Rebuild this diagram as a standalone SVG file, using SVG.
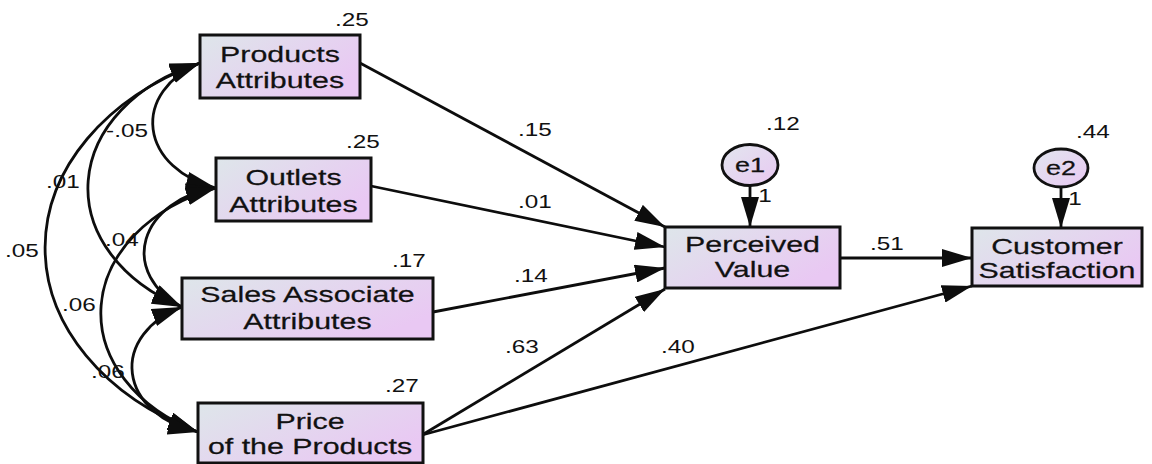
<svg xmlns="http://www.w3.org/2000/svg" width="1152" height="464" viewBox="0 0 1152 464">
<style>
.box{stroke:#111;stroke-width:3;fill:url(#g)}
.ell{stroke:#111;stroke-width:2.8;fill:url(#g2)}
.ln{fill:none;stroke:#0d0d0d;stroke-width:2.8;marker-end:url(#ah)}
.cv{fill:none;stroke:#0d0d0d;stroke-width:2.8;marker-start:url(#ah);marker-end:url(#ah)}
text{font-family:"Liberation Sans",Arial,sans-serif;fill:#111;text-anchor:middle}
.nm{font-size:22.5px;stroke:#111;stroke-width:0.25}
.num{font-size:18px}
.er{font-size:20px;stroke:#111;stroke-width:0.25}
</style>
<defs>
<linearGradient id="g" x1="0" y1="0" x2="1" y2="0.6">
<stop offset="0" stop-color="#dee6ea"/>
<stop offset="1" stop-color="#e9c8f3"/>
</linearGradient>
<linearGradient id="g2" x1="0" y1="0" x2="1" y2="1">
<stop offset="0" stop-color="#e2e6ee"/>
<stop offset="1" stop-color="#e8c8f2"/>
</linearGradient>
<marker id="ah" viewBox="0 0 30 18" refX="30" refY="9" markerWidth="30" markerHeight="18" markerUnits="userSpaceOnUse" orient="auto-start-reverse">
<path d="M0,0 L30,9 L0,18 z" fill="#0d0d0d"/>
</marker>
</defs>

<g id="connectors">
<path class="cv" d="M200 63 A92.8 68.7 0 0 0 216 188"/>
<path class="cv" d="M200 63 A183.6 136 0 0 0 182 307"/>
<path class="cv" d="M200 63 A278.5 206.3 0 0 0 198 432"/>
<path class="cv" d="M216 188 A89.4 66.2 0 0 0 182 307"/>
<path class="cv" d="M216 188 A181.3 134.3 0 0 0 198 432"/>
<path class="cv" d="M182 307 A91 67.4 0 0 0 198 432"/>
<path class="ln" d="M360 63 L665 227"/>
<path class="ln" d="M371 186 L665 247"/>
<path class="ln" d="M433 312 L665 268"/>
<path class="ln" d="M422 435 L665 289"/>
<path class="ln" d="M422 435 L972 286"/>
<path class="ln" d="M840 258 L972 258"/>
<path class="ln" d="M750 186 L750 227"/>
<path class="ln" d="M1061 187 L1061 228"/>
<text class="num" transform="translate(127 137) scale(1.35 1)">-.05</text>
<text class="num" transform="translate(63 188) scale(1.35 1)">.01</text>
<text class="num" transform="translate(22 257) scale(1.35 1)">.05</text>
<text class="num" transform="translate(122 246) scale(1.35 1)">.04</text>
<text class="num" transform="translate(79 311) scale(1.35 1)">.06</text>
<text class="num" transform="translate(108 378) scale(1.35 1)">.06</text>
<text class="num" transform="translate(535 136) scale(1.35 1)">.15</text>
<text class="num" transform="translate(535 208) scale(1.35 1)">.01</text>
<text class="num" transform="translate(531 282) scale(1.35 1)">.14</text>
<text class="num" transform="translate(522 353) scale(1.35 1)">.63</text>
<text class="num" transform="translate(678 353) scale(1.35 1)">.40</text>
<text class="num" transform="translate(887 250) scale(1.35 1)">.51</text>
<text class="num" transform="translate(765 202) scale(1.35 1)">1</text>
<text class="num" transform="translate(1075 205) scale(1.35 1)">1</text>
</g>

<g id="products">
<rect class="box" x="200" y="35" width="160" height="63"/>
<text class="nm" transform="translate(280 62) scale(1.35 1)">Products<tspan x="0" dy="26">Attributes</tspan></text>
<text class="num" transform="translate(352 26) scale(1.35 1)">.25</text>
</g>
<g id="outlets">
<rect class="box" x="216" y="158" width="155" height="63"/>
<text class="nm" transform="translate(293.5 185) scale(1.35 1)">Outlets<tspan x="0" dy="27">Attributes</tspan></text>
<text class="num" transform="translate(363 148) scale(1.35 1)">.25</text>
</g>
<g id="sales">
<rect class="box" x="182" y="278" width="251" height="61"/>
<text class="nm" transform="translate(307.5 302) scale(1.35 1)">Sales Associate<tspan x="0" dy="27">Attributes</tspan></text>
<text class="num" transform="translate(409 267) scale(1.35 1)">.17</text>
</g>
<g id="price">
<rect class="box" x="198" y="403" width="225" height="60"/>
<text class="nm" transform="translate(310 429) scale(1.35 1)">Price<tspan x="0" dy="25">of the Products</tspan></text>
<text class="num" transform="translate(402 392) scale(1.35 1)">.27</text>
</g>
<g id="perceived">
<rect class="box" x="665" y="227" width="175" height="61"/>
<text class="nm" transform="translate(752.5 252) scale(1.35 1)">Perceived<tspan x="0" dy="25">Value</tspan></text>
</g>
<g id="satisfaction">
<rect class="box" x="972" y="228" width="170" height="58"/>
<text class="nm" transform="translate(1057 254) scale(1.35 1)">Customer<tspan x="0" dy="24">Satisfaction</tspan></text>
</g>
<g id="e1">
<ellipse class="ell" cx="750" cy="165" rx="28" ry="20.5"/>
<text class="er" transform="translate(750 172) scale(1.35 1)">e1</text>
<text class="num" transform="translate(783 130) scale(1.35 1)">.12</text>
</g>
<g id="e2">
<ellipse class="ell" cx="1061" cy="168" rx="27" ry="19"/>
<text class="er" transform="translate(1061 175) scale(1.35 1)">e2</text>
<text class="num" transform="translate(1093 138) scale(1.35 1)">.44</text>
</g>
</svg>
